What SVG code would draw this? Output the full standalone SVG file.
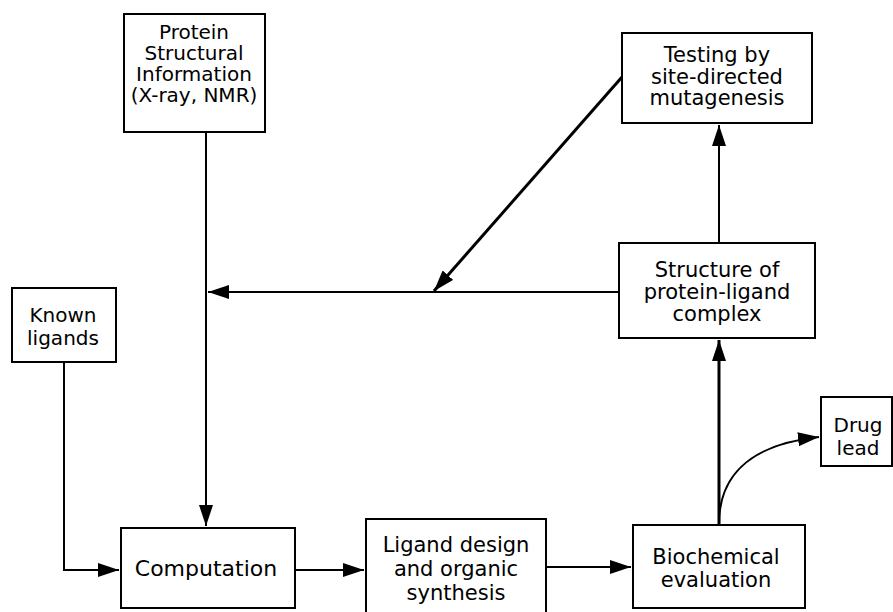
<svg xmlns="http://www.w3.org/2000/svg" width="893" height="612" viewBox="0 0 893 612">
<style>
.box{fill:#fff;stroke:#000;stroke-width:2}
.t{font-family:"DejaVu Sans",Verdana,sans-serif;font-size:21px;fill:#000;text-anchor:middle}
.s20{font-size:20px}
.s22{font-size:22px}
.c{fill:none;stroke:#000;stroke-width:2}
.k{stroke-width:3}
</style>
<defs>
<marker id="ah" markerUnits="userSpaceOnUse" markerWidth="24" markerHeight="16" refX="21" refY="7" orient="auto">
<path d="M0,0 L21,7 L0,14 z" fill="#000"/>
</marker>
</defs>
<rect width="893" height="612" fill="#fff"/>
<g id="connectors">
<path class="c" d="M206,132 V526" marker-end="url(#ah)"/>
<path class="c" d="M64,362 V570 H119" marker-end="url(#ah)"/>
<path class="c" d="M295,570 H364" marker-end="url(#ah)"/>
<path class="c" d="M546,567 H631" marker-end="url(#ah)"/>
<path class="c k" d="M719,524 V340" marker-end="url(#ah)"/>
<path class="c" d="M719,524 C719,480 745,445 819,437" marker-end="url(#ah)"/>
<path class="c" d="M719,243 V125" marker-end="url(#ah)"/>
<path class="c" d="M619,292 H208" marker-end="url(#ah)"/>
<path class="c k" d="M622,77 L434,291" marker-end="url(#ah)"/>
</g>
<g id="protein">
<rect class="box" x="124" y="14" width="141" height="118"/>
<text class="t s20" x="194" y="39">Protein</text>
<text class="t s20" x="194" y="60">Structural</text>
<text class="t s20" x="194" y="81">Information</text>
<text class="t s20" x="194" y="102">(X-ray, NMR)</text>
</g>
<g id="testing">
<rect class="box" x="622" y="33" width="190" height="90"/>
<text class="t" x="717" y="62">Testing by</text>
<text class="t" x="717" y="84">site-directed</text>
<text class="t" x="717" y="105">mutagenesis</text>
</g>
<g id="structure">
<rect class="box" x="619" y="243" width="196" height="95"/>
<text class="t" x="717" y="277">Structure of</text>
<text class="t" x="717" y="299">protein-ligand</text>
<text class="t" x="717" y="321">complex</text>
</g>
<g id="known">
<rect class="box" x="12" y="288" width="104" height="74"/>
<text class="t s20" x="63" y="322">Known</text>
<text class="t s20" x="63" y="345">ligands</text>
</g>
<g id="computation">
<rect class="box" x="121" y="528" width="174" height="80"/>
<text class="t s22" x="206" y="576">Computation</text>
</g>
<g id="ligand">
<rect class="box" x="366" y="519" width="180" height="100"/>
<text class="t" x="456" y="552">Ligand design</text>
<text class="t" x="456" y="576">and organic</text>
<text class="t" x="456" y="600">synthesis</text>
</g>
<g id="biochemical">
<rect class="box" x="633" y="525" width="172" height="83"/>
<text class="t" x="716" y="564">Biochemical</text>
<text class="t" x="716" y="587">evaluation</text>
</g>
<g id="drug">
<rect class="box" x="821" y="397" width="71" height="69"/>
<text class="t s20" x="858" y="432">Drug</text>
<text class="t s20" x="858" y="455">lead</text>
</g>
</svg>
